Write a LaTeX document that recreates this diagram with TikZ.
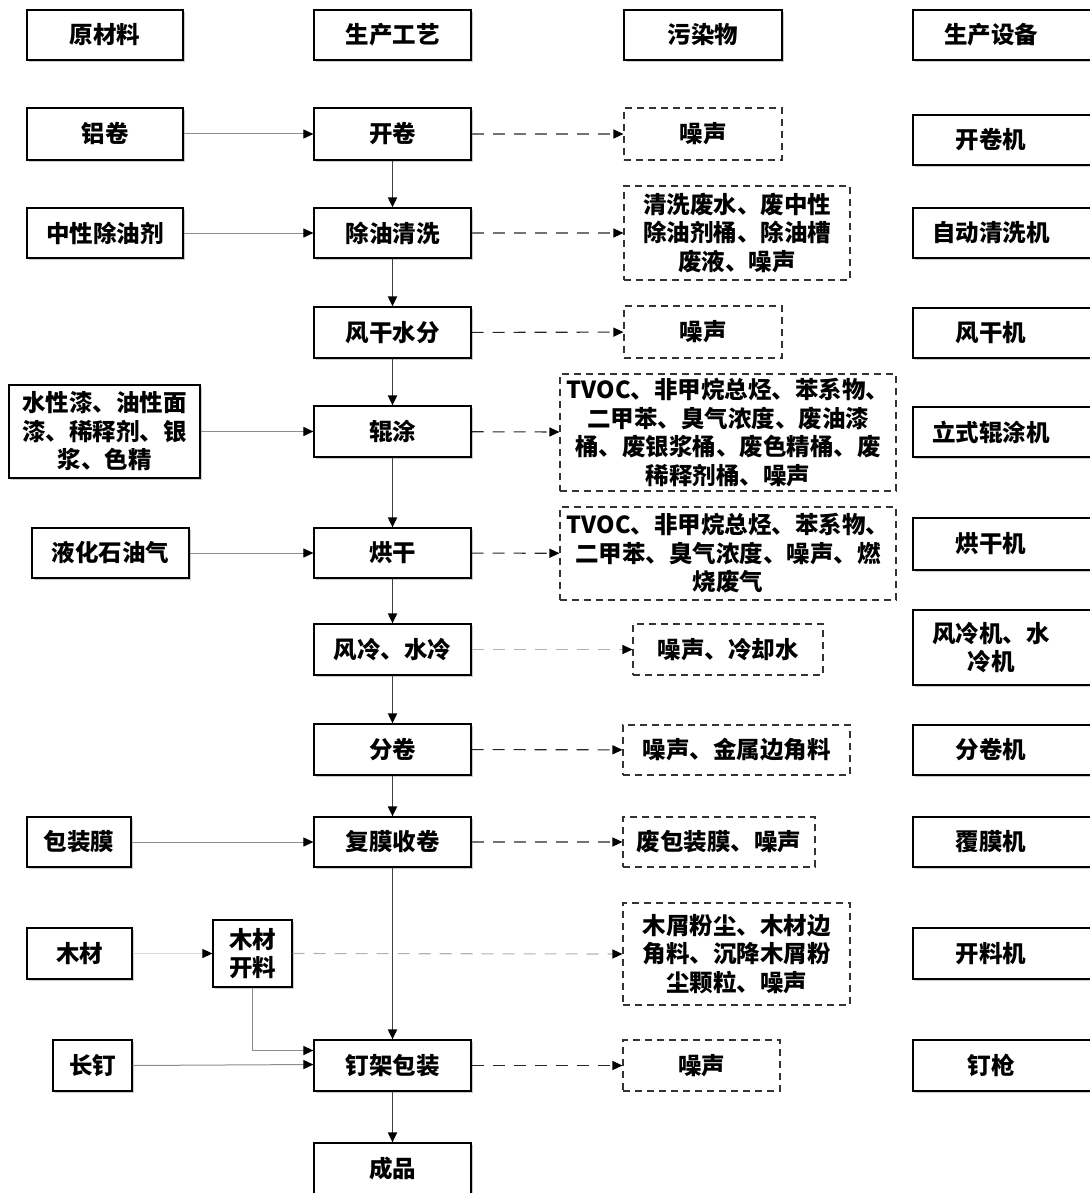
\documentclass[tikz,border=0pt]{standalone}
\usepackage{fontspec}
\setmainfont{Noto Sans CJK SC}
\usetikzlibrary{arrows.meta,shadows}
\begin{document}
\begin{tikzpicture}[x=1pt,y=-1pt,
 txt/.style={font=\bfseries\fontsize{23.5}{28.5}\selectfont, align=center, inner sep=0pt},
 wh/.style 2 args={minimum width=#1pt, minimum height=#2pt},
 box/.style={txt, draw=black, line width=1.2pt, fill=white, drop shadow={shadow xshift=2pt, shadow yshift=-2pt, opacity=0.2, fill=black}},
 frame/.style={draw=black, line width=1.2pt, fill=white, drop shadow={shadow xshift=2pt, shadow yshift=-2pt, opacity=0.2, fill=black}},
 pbox/.style={txt, draw=black!80, dash pattern=on 7pt off 5pt, line width=1.1pt, fill=white},
 tip/.style={-{Triangle[length=10pt,width=9pt,color=black]}},
 feed/.style={draw=black!45, line width=1pt, tip},
 flow/.style={draw=black!75, line width=1.8pt, tip},
 emis/.style={draw=black!55, line width=1.1pt, dash pattern=on 12pt off 9pt, tip},
 emisd/.style={emis, draw=black!85},
]
\useasboundingbox (0,0) rectangle (1089,1193);
% headers
\node[box, wh={156}{50}] (h1) at (105,35) {原材料};
\node[box, wh={157}{50}] (h2) at (392.5,35) {生产工艺};
\node[box, wh={158}{50}] (h3) at (703,35) {污染物};
\path[frame] (913,10) rectangle (1100,60);
\node[txt] (h4) at (991,35) {生产设备};
% raw materials
\node[box, wh={156}{52}] (r1) at (105,134) {铝卷};
\node[box, wh={156}{50}] (r2) at (105,233) {中性除油剂};
\node[box, wh={191}{93}] (r3) at (104.5,431.5) {水性漆、油性面\\漆、稀释剂、银\\浆、色精};
\node[box, wh={157}{50}] (r4) at (110.5,553) {液化石油气};
\node[box, wh={104}{50}] (r5) at (79,842) {包装膜};
\node[box, wh={105}{51}] (r6) at (79.5,953.5) {木材};
\node[box, wh={79}{51}] (r7) at (92.5,1065.5) {长钉};
\node[box, wh={79}{67}] (r8) at (252.5,953.5) {木材\\开料};
% process
\node[box, wh={157}{52}] (p1) at (392.5,134) {开卷};
\node[box, wh={157}{50}] (p2) at (392.5,233) {除油清洗};
\node[box, wh={157}{51}] (p3) at (392.5,332.5) {风干水分};
\node[box, wh={157}{51}] (p4) at (392.5,431.5) {辊涂};
\node[box, wh={157}{50}] (p5) at (392.5,553) {烘干};
\node[box, wh={157}{51}] (p6) at (392.5,649.5) {风冷、水冷};
\node[box, wh={157}{51}] (p7) at (392.5,749.5) {分卷};
\node[box, wh={157}{50}] (p8) at (392.5,842) {复膜收卷};
\node[box, wh={157}{51}] (p9) at (392.5,1065.5) {钉架包装};
\node[box, wh={157}{51}] (p10) at (392.5,1168.5) {成品};
% pollutants
\node[pbox, wh={158}{52}] (q1) at (703,134) {噪声};
\node[pbox, wh={226}{94}] (q2) at (737,233) {清洗废水、废中性\\除油剂桶、除油槽\\废液、噪声};
\node[pbox, wh={158}{52}] (q3) at (703,332) {噪声};
\node[pbox, wh={336}{117}] (q4) at (728,432.5) {TVOC、非甲烷总烃、苯系物、\\二甲苯、臭气浓度、废油漆\\桶、废银浆桶、废色精桶、废\\稀释剂桶、噪声};
\node[pbox, wh={336}{93}] (q5) at (728,553.5) {TVOC、非甲烷总烃、苯系物、\\二甲苯、臭气浓度、噪声、燃\\烧废气};
\node[pbox, wh={190}{51}] (q6) at (728,649.5) {噪声、冷却水};
\node[pbox, wh={227}{50}] (q7) at (736.5,750) {噪声、金属边角料};
\node[pbox, wh={192}{50}] (q8) at (719,842) {废包装膜、噪声};
\node[pbox, wh={227}{102}] (q9) at (736.5,954) {木屑粉尘、木材边\\角料、沉降木屑粉\\尘颗粒、噪声};
\node[pbox, wh={157}{51}] (q10) at (701.5,1065.5) {噪声};
% equipment
\path[frame] (913,115) rectangle (1100,165);
\node[txt] (e1) at (991,140) {开卷机};
\path[frame] (913,208) rectangle (1100,258);
\node[txt] (e2) at (991,233) {自动清洗机};
\path[frame] (913,308) rectangle (1100,358);
\node[txt] (e3) at (991,333) {风干机};
\path[frame] (913,407) rectangle (1100,457);
\node[txt] (e4) at (991,432) {立式辊涂机};
\path[frame] (913,518) rectangle (1100,570);
\node[txt] (e5) at (991,544) {烘干机};
\path[frame] (913,610) rectangle (1100,685);
\node[txt] (e6) at (991,647.5) {风冷机、水\\冷机};
\path[frame] (913,725) rectangle (1100,775);
\node[txt] (e7) at (991,750) {分卷机};
\path[frame] (913,817) rectangle (1100,867);
\node[txt] (e8) at (991,842) {覆膜机};
\path[frame] (913,928) rectangle (1100,979);
\node[txt] (e9) at (991,953.5) {开料机};
\path[frame] (913,1040) rectangle (1100,1091);
\node[txt] (e10) at (991,1065.5) {钉枪};
% feed connectors
\draw[feed] (r1) -- (p1);
\draw[feed] (r2) -- (p2);
\draw[feed] (r3) -- (p4);
\draw[feed] (r4.east) -- (p5.west);
\draw[feed] (r5) -- (p8);
\draw[feed, draw=black!15] (r6) -- (r8);
\draw[feed] (r7.east) -- ([yshift=1pt]p9.west);
\draw[feed] (r8.south) |- ([yshift=15pt]p9.west);
% process flow
\draw[emis, draw=black!30] (r8.east) -- (q9.west);
\draw[flow] (p1) -- (p2);
\draw[flow] (p2) -- (p3);
\draw[flow] (p3) -- (p4);
\draw[flow] (p4) -- (p5);
\draw[flow] (p5) -- (p6);
\draw[flow] (p6) -- (p7);
\draw[flow] (p7) -- (p8);
\draw[flow] (p8) -- (p9);
\draw[flow] (p9) -- (p10);
% emissions
\draw[emis] (p1) -- (q1);
\draw[emis] (p2) -- (q2);
\draw[emisd] (p3) -- (q3);
\draw[emisd] (p4) -- (q4);
\draw[emisd] (p5) -- (q5);
\draw[emis, draw=black!30] (p6) -- (q6);
\draw[emisd] (p7) -- (q7);
\draw[emis] (p8) -- (q8);
\draw[emisd] (p9) -- (q10);
\end{tikzpicture}
\end{document}
